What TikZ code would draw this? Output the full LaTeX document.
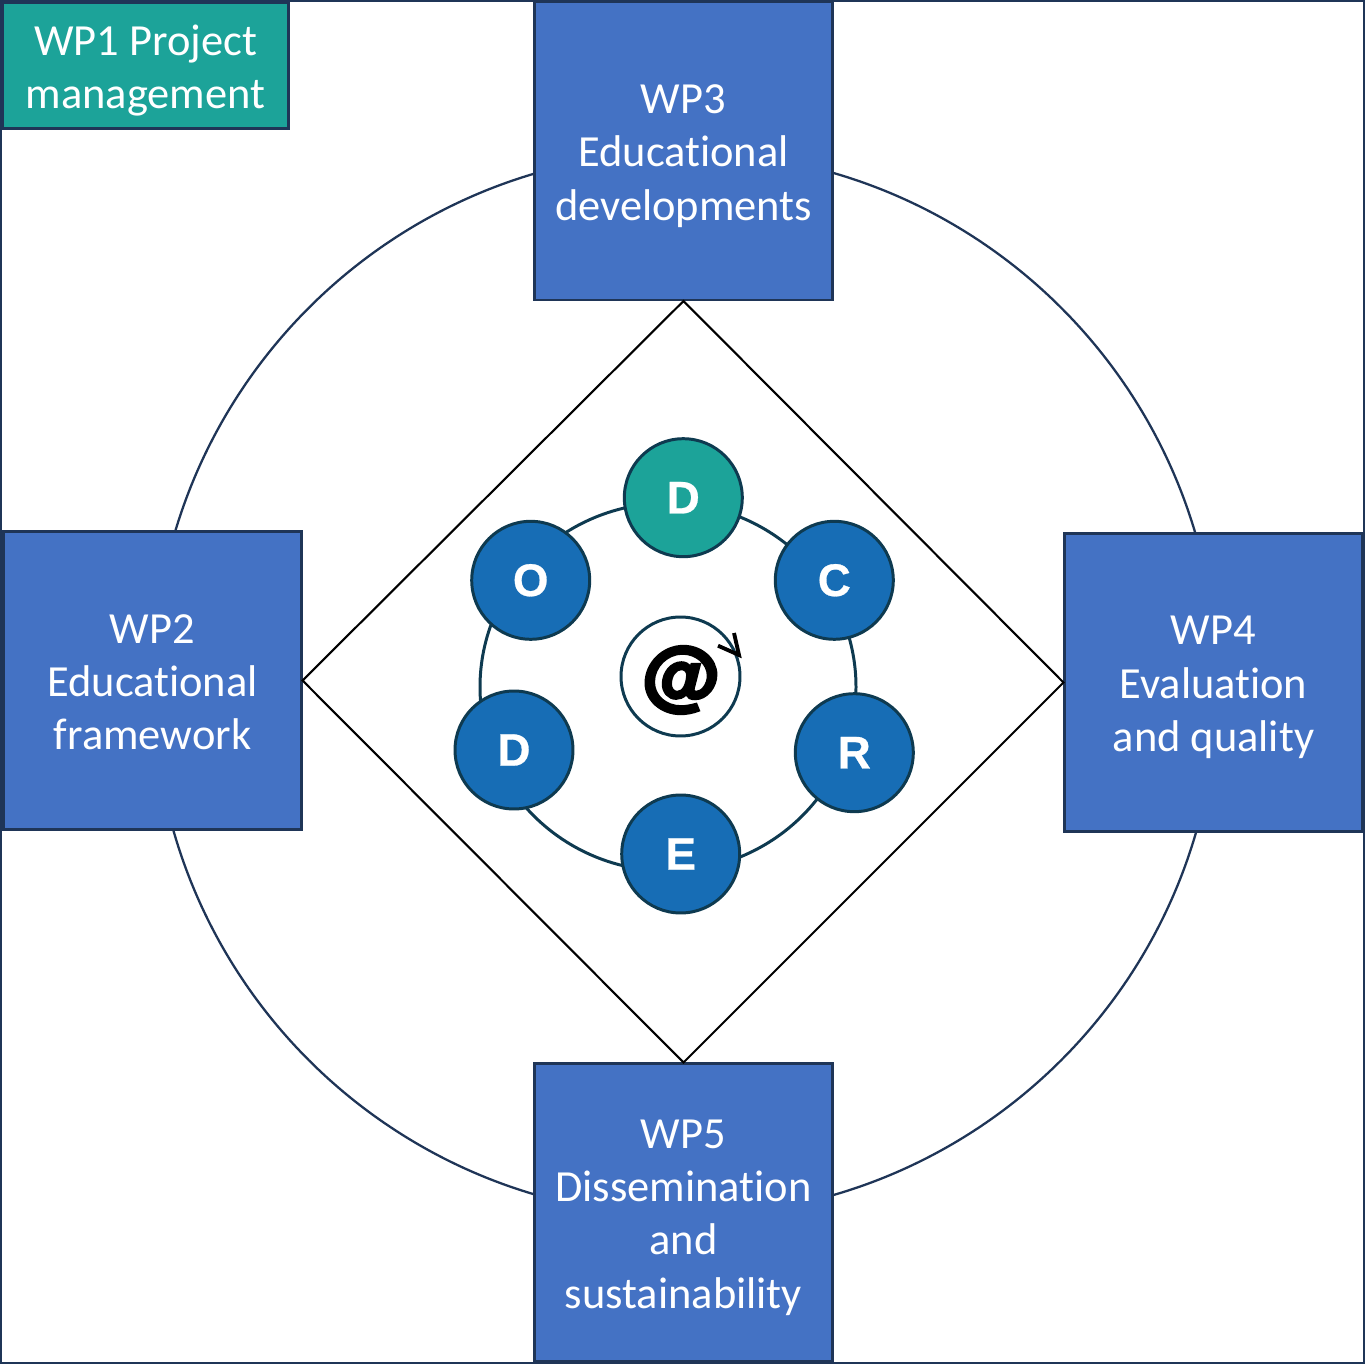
\documentclass[tikz,border=0pt]{standalone}
\usepackage{fontspec}
\setmainfont{Carlito}[Ligatures=NoCommon]
\newfontfamily\stepfont{Liberation Sans Bold}[FakeBold=0.6]
\newfontfamily\atfont{TeX Gyre Heros}[UprightFont=*-Bold,FakeBold=2.5]
\definecolor{wpblue}{HTML}{4472C4}
\definecolor{wpteal}{HTML}{1CA399}
\definecolor{wpedge}{HTML}{1F3557}
\definecolor{stepblue}{HTML}{176DB5}
\definecolor{stepedge}{HTML}{0E3A50}
\tikzset{
  wpbox/.style={draw=wpedge, line width=1.2pt, fill=wpblue, minimum size=5.96cm, inner sep=0pt},
  wptext/.style={text=white, align=center, inner sep=0pt, yshift=-0.1cm,
    font=\fontsize{25.3}{30.3}\selectfont, execute at end node={\vphantom{p}}},
  stepdot/.style={circle, draw=stepedge, line width=1.7pt, fill=stepblue, text=white,
    minimum size=2.36cm, inner sep=0pt, font=\stepfont\fontsize{26}{26}\selectfont},
}
\begin{document}
\begin{tikzpicture}[x=0.02cm, y=-0.02cm]
    \useasboundingbox (0,0) rectangle (1365,1364);
    % Frame
    \draw[wpedge, line width=1.4pt] (1,1) rectangle (1364,1363);

    % Big circle
    \coordinate (hub) at (685,684);
    \draw[wpedge, line width=1.3pt] (hub) circle (532);

    % Work packages
    \node[wpbox, label={[wptext]center:{WP3\\Educational\\developments}}] (wp3) at (683.5,151) {};
    \node[wpbox, label={[wptext]center:{WP2\\Educational\\framework}}] (wp2) at (152.5,680.5) {};
    \node[wpbox, label={[wptext]center:{WP4\\Evaluation\\and quality}}] (wp4) at (1213.5,682.5) {};
    \node[wpbox, label={[wptext]center:{WP5\\Dissemination\\and\\sustainability}}] (wp5) at (683.5,1212.5) {};
    \node[wpbox, fill=wpteal, minimum width=5.72cm, minimum height=2.52cm,
      label={[wptext]center:{WP1 Project\\management}}] (wp1) at (145.5,65.5) {};

    % Diamond
    \draw[black, line width=1.2pt] (wp3.south) -- (wp4.west) -- (wp5.north) -- (wp2.east) -- cycle;

    % Ring of steps
    \coordinate (ringc) at (668,687);
    \draw[stepedge, line width=1.7pt] (ringc) ellipse (188 and 184);
    \node[stepdot, fill=wpteal] (d1) at (683.3,497.7) {D};
    \node[stepdot] (c) at (834.3,580.3) {C};
    \node[stepdot] (r) at (854.3,752.7) {R};
    \node[stepdot] (e) at (680.7,854) {E};
    \node[stepdot] (d2) at (514,750) {D};
    \node[stepdot] (o) at (530.7,580.3) {O};

    % At sign
    \node[circle, draw=stepedge, line width=1.7pt, minimum size=2.38cm, inner sep=0pt] (at) at (680.5,676.5) {};
    \node[font=\atfont\fontsize{44}{44}\selectfont, inner sep=0pt] (atsign) at (680,680) {@};
    \coordinate (tip) at (739,655);
    \draw[black, line width=2.2pt] (718,645.7) -- (tip) -- (734,633);
\end{tikzpicture}
\end{document}
